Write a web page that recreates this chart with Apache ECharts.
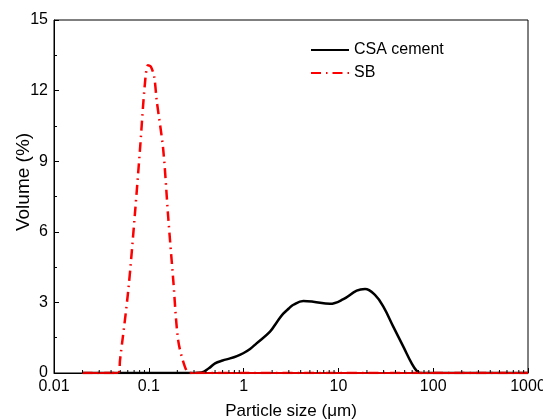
<!DOCTYPE html>
<html>
<head>
<meta charset="utf-8">
<script src="https://cdn.jsdelivr.net/npm/echarts@6/dist/echarts.min.js"></script>
<style>html,body{margin:0;padding:0;background:#fff}#c{width:543px;height:419px}</style>
</head>
<body>
<div id="c"></div>
<script>
// ---- data ----
const csaSize = [0.02, 0.3, 0.36, 0.43, 0.5, 0.6, 0.72, 0.85, 0.99, 1.17, 1.37, 1.9, 2.25, 2.62, 3.0, 3.35, 4.27, 5.43, 8.15, 11.3, 15.6, 19.1, 24.3, 29.8, 37.9, 48.4, 59.3, 67, 73, 1000];
const csaVal  = [0, 0, 0.02, 0.2, 0.41, 0.53, 0.62, 0.72, 0.84, 1.02, 1.26, 1.76, 2.17, 2.52, 2.74, 2.9, 3.06, 3.03, 2.94, 3.14, 3.50, 3.57, 3.32, 2.82, 1.97, 1.12, 0.41, 0.09, 0, 0];
const sbSize = [0.02, 0.0476, 0.0497, 0.0608, 0.0715, 0.0807, 0.091, 0.098, 0.105, 0.114, 0.121, 0.142, 0.16, 0.181, 0.204, 0.24, 0.27, 1, 10, 100, 1000];
const sbVal  = [0, 0, 0.55, 3.53, 6.8, 9.49, 12.3, 13.08, 13.02, 12.6, 11.6, 9.49, 6.65, 3.96, 1.40, 0.27, 0, 0, 0, 0, 0];
const xTicks = [0.01, 0.1, 1, 10, 100, 1000];
const yTicks = [0, 3, 6, 9, 12, 15];
const seriesNames = ['CSA cement', 'SB'];
const xTitle = 'Particle size (μm)';
const yTitle = 'Volume (%)';

const FONT = '"Liberation Sans", Arial, sans-serif';
const minorX = [];
for (let d = 0; d < xTicks.length - 1; d++) {
  for (let k = 2; k <= 9; k++) minorX.push(xTicks[d] * k);
}
const chart = echarts.init(document.getElementById('c'), null, {renderer: 'canvas'});
chart.setOption({
  animation: false,
  backgroundColor: '#fff',
  grid: {left: 54, right: 15, top: 20, bottom: 46, show: true, borderColor: '#000', borderWidth: 1,
    backgroundColor: 'transparent', containLabel: false, outerBoundsMode: 'none'},
  legend: {
    orient: 'vertical', left: 305, top: 37, itemWidth: 38, itemHeight: 14, itemGap: 7,
    data: seriesNames,
    itemStyle: {opacity: 0},
    textStyle: {fontFamily: FONT, fontSize: 16, color: '#000'}
  },
  graphic: [{
    type: 'text', x: 24, y: 182, rotation: Math.PI / 2, silent: true,
    style: {text: yTitle, font: '19px "Liberation Sans", Arial, sans-serif', fill: '#000',
      align: 'center', verticalAlign: 'middle'}
  }],
  xAxis: {
    type: 'log', logBase: 10, min: xTicks[0], max: xTicks[xTicks.length - 1],
    name: xTitle, nameLocation: 'middle', nameGap: 30,
    nameTextStyle: {fontFamily: FONT, fontSize: 17, color: '#000'},
    axisLine: {lineStyle: {color: '#000', width: 1}},
    axisTick: {inside: true, length: 5, lineStyle: {color: '#000'}},
    axisLabel: {fontFamily: FONT, fontSize: 16, color: '#000', margin: 6,
      formatter: v => String(Math.round(v * 100) / 100)},
    splitLine: {show: false}
  },
  yAxis: {
    type: 'value', min: yTicks[0], max: yTicks[yTicks.length - 1], interval: 3,
    axisLine: {show: true, lineStyle: {color: '#000', width: 1}},
    axisTick: {inside: true, length: 5, lineStyle: {color: '#000'}},
    minorTick: {show: true, splitNumber: 2, length: 3, lineStyle: {color: '#000'}},
    axisLabel: {fontFamily: FONT, fontSize: 16, color: '#000', margin: 6},
    splitLine: {show: false}
  },
  series: [
    {
      name: 'CSA cement', type: 'line', symbol: 'none', showSymbol: false, smooth: 0.4,
      lineStyle: {color: '#000', width: 2.5},
      itemStyle: {color: '#000'},
      data: csaSize.map((s, i) => [s, csaVal[i]]), z: 3
    },
    {
      name: 'SB', type: 'line', symbol: 'none', showSymbol: false, smooth: 0.3,
      lineStyle: {color: '#ff0000', width: 2.5, type: [10, 5, 1.5, 5]},
      itemStyle: {color: '#ff0000'},
      data: sbSize.map((s, i) => [s, sbVal[i]]), z: 4
    },
    {
      name: 'SB', type: 'line', symbol: 'none', showSymbol: false, connectNulls: false,
      lineStyle: {color: '#e00000', width: 2},
      data: sbSize.map((s, i) => [s, sbVal[i] === 0 ? 0 : null]), z: 5
    },
    {
      type: 'custom', silent: true, z: 6,
      data: minorX.map(v => [v]),
      renderItem: (params, api) => {
        const p = api.coord([api.value(0), 0]);
        return {type: 'line', shape: {x1: p[0], y1: p[1], x2: p[0], y2: p[1] - 3},
          style: {stroke: '#000', lineWidth: 1}};
      }
    }
  ]
});
</script>
</body>
</html>
